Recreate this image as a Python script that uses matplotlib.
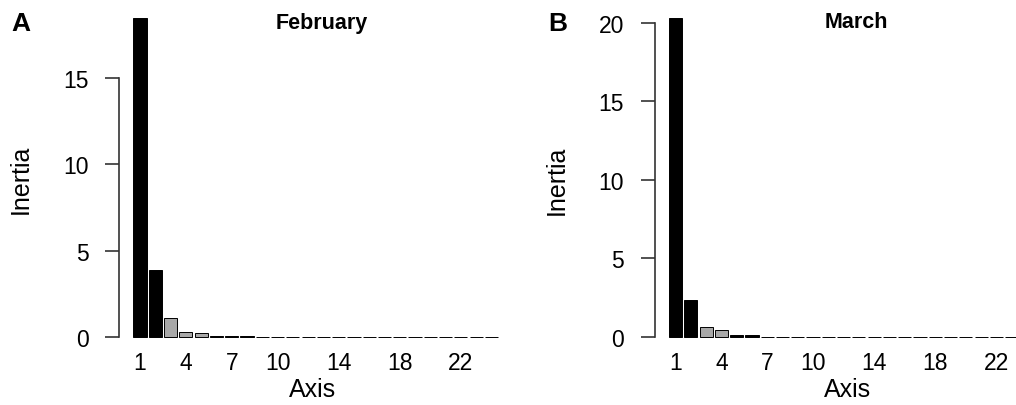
import numpy as np
import matplotlib
matplotlib.use("Agg")
import matplotlib.pyplot as plt

plt.rcParams['font.family'] = ['Liberation Sans', 'DejaVu Sans']

# eigenvalues (inertia) per axis
feb_inertia = [18.47, 3.88, 1.10, 0.27, 0.25, 0.08, 0.06, 0.05,
               0.01, 0.01, 0.01, 0.01, 0.01, 0.01, 0.01, 0.01,
               0.01, 0.01, 0.01, 0.01, 0.01, 0.01, 0.01, 0.01]
mar_inertia = [20.30, 2.36, 0.62, 0.45, 0.15, 0.10, 0.01, 0.01,
               0.01, 0.01, 0.01, 0.01, 0.01, 0.01, 0.01, 0.01,
               0.01, 0.01, 0.01, 0.01, 0.01, 0.01, 0.01, 0.01]
feb_gray = [3, 4, 5]
mar_gray = [3, 4]
axis_labels = [1, 4, 7, 10, 14, 18, 22]
feb_yticks = [0, 5, 10, 15]
mar_yticks = [0, 5, 10, 15, 20]

W, H = 1016, 406
fig = plt.figure(figsize=(W / 100, H / 100), dpi=100)


def scree(ax, vals, gray, yticks):
    n = len(vals)
    x = 0.6 + 1.1 * np.arange(n)   # R barplot, space = 0.1
    cols = ['#a8a8a8' if i + 1 in gray else 'black' for i in range(n)]
    ax.bar(x, vals, width=0.95, color=cols, edgecolor='black', linewidth=0.7)
    span = 1.1 * n - 1.0
    ax.set_xlim(0.1 - 0.04 * span, 0.1 + 1.04 * span)
    top = max(vals)
    ax.set_ylim(-0.04 * top, 1.04 * top)
    ax.set_xticks([x[i - 1] for i in axis_labels])
    ax.set_xticklabels([str(i) for i in axis_labels])
    ax.set_yticks(yticks)
    ax.set_yticklabels([str(t) for t in yticks])
    for s in ['top', 'right', 'bottom']:
        ax.spines[s].set_visible(False)
    ax.spines['left'].set_bounds(yticks[0], yticks[-1])
    ax.spines['left'].set_color('#333333')
    ax.spines['left'].set_linewidth(1.2)
    ax.tick_params(axis='x', length=0, pad=1, labelsize=16.5)
    ax.tick_params(axis='y', length=10, width=1.2, color='#333333', pad=12, labelsize=16.5)


ax1 = fig.add_axes([119 / W, 0.136, 381 / W, 0.849])
scree(ax1, feb_inertia, feb_gray, feb_yticks)
ax2 = fig.add_axes([654.5 / W, 0.136, 381 / W, 0.849])
scree(ax2, mar_inertia, mar_gray, mar_yticks)

fig.text(322 / W, 1 - 23 / H, 'February', ha='center', va='center', fontsize=15.5, fontweight='bold')
fig.text(856 / W, 1 - 23 / H, 'March', ha='center', va='center', fontsize=15.5, fontweight='bold')
fig.text(21 / W, 1 - 24 / H, 'A', ha='center', va='center', fontsize=19, fontweight='bold')
fig.text(558 / W, 1 - 24 / H, 'B', ha='center', va='center', fontsize=19, fontweight='bold')
fig.text(21 / W, 1 - 179 / H, 'Inertia', ha='center', va='center', rotation=90, fontsize=18)
fig.text(557 / W, 1 - 180 / H, 'Inertia', ha='center', va='center', rotation=90, fontsize=18)
fig.text(313 / W, 1 - 390 / H, 'Axis', ha='center', va='center', fontsize=18)
fig.text(848 / W, 1 - 390 / H, 'Axis', ha='center', va='center', fontsize=18)

fig.savefig('out.png', dpi=100)
